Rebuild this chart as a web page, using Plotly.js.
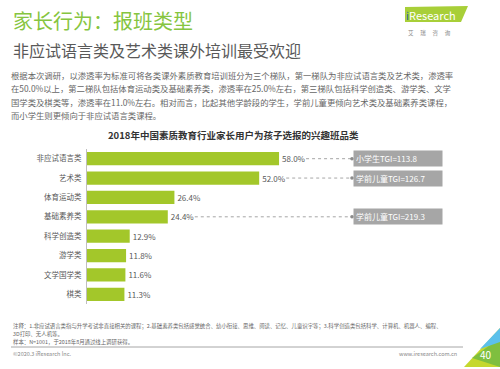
<!DOCTYPE html>
<html>
<head>
<meta charset="utf-8">
<script src="https://cdn.plot.ly/plotly-3.0.1.min.js"></script>
<style>
html,body{margin:0;padding:0;background:#fff;}
#chart{width:500px;height:369px;}
</style>
</head>
<body>
<div id="chart"></div>
<script>
// ---- data ----
var categories = ['非应试语言类','艺术类','体育运动类','基础素养类','科学创造类','游学类','文学国学类','棋类'];
var values = [58.0, 52.0, 26.4, 24.4, 12.9, 11.8, 11.6, 11.3];
var tgiLabels = ['小学生TGI=113.8','学前儿童TGI=126.7', null, '学前儿童TGI=219.3', null, null, null, null];

var pageTitle = '家长行为：报班类型';
var pageSubtitle = '非应试语言类及艺术类课外培训最受欢迎';
var paragraph = [
  '根据本次调研，以渗透率为标准可将各类课外素质教育培训班分为三个梯队，第一梯队为非应试语言类及艺术类，渗透率',
  '在50.0%以上，第二梯队包括体育运动类及基础素养类，渗透率在25.0%左右，第三梯队包括科学创造类、游学类、文学',
  '国学类及棋类等，渗透率在11.0%左右。相对而言，比起其他学龄段的学生，学前儿童更倾向艺术类及基础素养类课程，',
  '而小学生则更倾向于非应试语言类课程。'
];
var chartTitle = '2018年中国素质教育行业家长用户为孩子选报的兴趣班品类';
var notes = [
  '注释：1.非应试语言类指与升学考试非直接相关的课程；2.基础素养类包括感觉统合、幼小衔接、思维、阅读、记忆、儿童识字等；3.科学创造类包括科学、计算机、机器人、编程、',
  '3D打印、无人机等。',
  '样本：N=1001，于2018年8月通过线上调研获得。'
];

// ---- layout geometry ----
var FW = 500, FH = 369;
var ML = 87, MR = 13, MT = 149, MB = 65;
var PW = FW - ML - MR, PH = FH - MT - MB;
var XMAX = 120.8;
function px(x){ return (x - ML) / PW; }
function py(y){ return (FH - MB - y) / PH; }
var FONT = '"Noto Sans CJK SC", "Noto Sans", sans-serif';
var GREEN = '#a3c72a';
var GRAY = '#595959';

var annotations = [];
var shapes = [];

function addText(text, x, y, size, color, xanchor, extra){
  var a = {text: text, x: px(x), y: py(y), xref: 'paper', yref: 'paper',
    xanchor: xanchor || 'left', yanchor: 'middle', showarrow: false,
    font: {family: FONT, size: size, color: color}};
  if (extra) for (var k in extra) a[k] = extra[k];
  annotations.push(a);
}

// headers
addText(pageTitle, 11, 21, 20, '#86c540');
addText(pageSubtitle, 11, 50, 16, GRAY);
paragraph.forEach(function(l, i){ addText(l, 9, 75 + i * 13.3, 8.35, '#666666'); });
addText('<b>' + chartTitle + '</b>', 233, 135, 9.5, '#333333', 'center');

// logo
shapes.push({type: 'path', xref: 'paper', yref: 'paper',
  path: 'M ' + px(405) + ' ' + py(7) + ' L ' + px(468) + ' ' + py(6) + ' L ' + px(461) + ' ' + py(22) + ' L ' + px(405) + ' ' + py(22) + ' Z',
  fillcolor: '#a8cf38', line: {width: 0}});
addText('<span style="color:#1f5fa8">i</span>Research', 404, 15, 11, '#ffffff');
addText('艾　 瑞　 咨　 询', 406, 33, 5.5, '#888888');

// tgi call-outs
var DOT_X = (352 - ML) * XMAX / PW;   // data-space x of the dot
var LABEL_GAP = 27 * XMAX / PW;       // gap after bar end before dotted line
categories.forEach(function(c, i){
  if (!tgiLabels[i]) return;
  shapes.push({type: 'line', xref: 'x', yref: 'y', x0: values[i] + LABEL_GAP, x1: DOT_X, y0: c, y1: c,
    line: {color: '#a6a6a6', width: 1, dash: 'dot'}});
  shapes.push({type: 'circle', xref: 'x', yref: 'y', xsizemode: 'pixel', ysizemode: 'pixel',
    xanchor: DOT_X, yanchor: c, x0: -1.8, x1: 1.8, y0: -1.8, y1: 1.8,
    fillcolor: '#8c8c8c', line: {width: 0}});
  annotations.push({text: tgiLabels[i], x: px(353), y: c, xref: 'paper', yref: 'y',
    xanchor: 'left', yanchor: 'middle', showarrow: false, align: 'left',
    width: 84, height: 11, borderpad: 2, bgcolor: '#a6a6a6',
    font: {family: FONT, size: 8, color: '#ffffff'}});
});

// footnotes
notes.forEach(function(l, i){ addText(l, 11, 326 + i * 7.8, 5.4, '#666666'); });
shapes.push({type: 'line', xref: 'paper', yref: 'paper', x0: px(11), x1: px(463), y0: py(347), y1: py(347),
  line: {color: '#a6a6a6', width: 1}});
addText('©2020.3 iResearch Inc.', 11, 353.5, 5.5, '#888888');
addText('www.iresearch.com.cn', 459, 353.5, 5.5, '#888888', 'right');

// page corner triangle
function poly(pts, color){
  var d = pts.map(function(p, i){ return (i ? 'L ' : 'M ') + px(p[0]) + ' ' + py(p[1]); }).join(' ') + ' Z';
  shapes.push({type: 'path', xref: 'paper', yref: 'paper', path: d, fillcolor: color, line: {width: 0}});
}
poly([[464,367],[500,367],[500,328]], '#c5d82e');
poly([[472,358],[500,367],[500,338]], '#7fbf3f');
poly([[480,349],[500,342],[500,328]], '#5bc0eb');
addText('40', 486, 354, 10, '#ffffff', 'center');

var trace = {
  type: 'bar', orientation: 'h',
  y: categories, x: values,
  marker: {color: GREEN},
  width: 0.68,
  text: values.map(function(v){ return v.toFixed(1) + '%'; }),
  textposition: 'outside', cliponaxis: false,
  textfont: {family: FONT, size: 8, color: GRAY},
  hoverinfo: 'none'
};

var layout = {
  width: FW, height: FH, autosize: false,
  margin: {l: ML, r: MR, t: MT, b: MB, pad: 0},
  paper_bgcolor: '#ffffff', plot_bgcolor: '#ffffff',
  showlegend: false,
  font: {family: FONT},
  xaxis: {range: [0, XMAX], visible: false, fixedrange: true},
  yaxis: {type: 'category', range: [categories.length - 0.5, -0.5],
    showline: true, linecolor: '#bfbfbf', linewidth: 1, showgrid: false, zeroline: false,
    ticks: '', ticklabelstandoff: 3,
    tickfont: {family: FONT, size: 7.5, color: GRAY}, fixedrange: true},
  shapes: shapes,
  annotations: annotations
};

Plotly.newPlot('chart', [trace], layout, {displayModeBar: false, staticPlot: true});
</script>
</body>
</html>
